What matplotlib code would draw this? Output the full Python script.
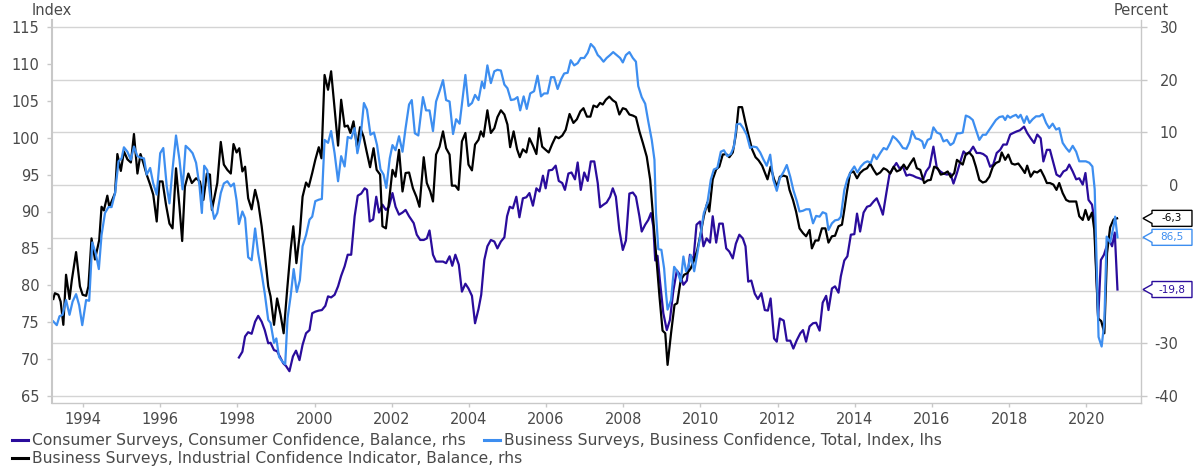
import matplotlib
matplotlib.use("Agg")
import matplotlib.pyplot as plt
from matplotlib.path import Path
from matplotlib.lines import Line2D

# Business Surveys, Business Confidence, Total, Index (lhs)
bc_years = [
    1993.23, 1993.32, 1993.39, 1993.47, 1993.56, 1993.65, 1993.73, 1993.82, 1993.90, 1993.98,
    1994.08, 1994.16, 1994.24, 1994.33, 1994.41, 1994.48, 1994.57, 1994.66, 1994.74, 1994.83, 1994.92,
    1995.00, 1995.06, 1995.15, 1995.24, 1995.32, 1995.41, 1995.49, 1995.58, 1995.65, 1995.74, 1995.82, 1995.91,
    1996.00, 1996.08, 1996.17, 1996.24, 1996.32, 1996.41, 1996.50, 1996.58, 1996.66, 1996.76, 1996.84, 1996.93,
    1997.02, 1997.08, 1997.14, 1997.22, 1997.31, 1997.40, 1997.48, 1997.57, 1997.65, 1997.74, 1997.83, 1997.91,
    1997.98, 1998.04, 1998.13, 1998.20, 1998.28, 1998.37, 1998.46, 1998.54, 1998.63, 1998.71, 1998.80, 1998.86, 1998.95,
    1999.01, 1999.08, 1999.16, 1999.24, 1999.30, 1999.38, 1999.46, 1999.54, 1999.62, 1999.69, 1999.78, 1999.87, 1999.94,
    2000.02, 2000.11, 2000.19, 2000.26, 2000.35, 2000.43, 2000.52, 2000.61, 2000.69, 2000.78, 2000.86, 2000.95,
    2001.04, 2001.11, 2001.19, 2001.28, 2001.36, 2001.45, 2001.54, 2001.62, 2001.71, 2001.79, 2001.86, 2001.95,
    2002.02, 2002.10, 2002.19, 2002.28, 2002.36, 2002.45, 2002.52, 2002.60, 2002.69, 2002.81, 2002.89, 2002.98,
    2003.07, 2003.15, 2003.24, 2003.33, 2003.41, 2003.50, 2003.59, 2003.67, 2003.76, 2003.85, 2003.91, 2003.99,
    2004.08, 2004.16, 2004.25, 2004.34, 2004.40, 2004.48, 2004.57, 2004.66, 2004.74, 2004.83, 2004.92,
    2005.00, 2005.09, 2005.18, 2005.26, 2005.33, 2005.42, 2005.50, 2005.59, 2005.69, 2005.78, 2005.87, 2005.95,
    2006.04, 2006.13, 2006.21, 2006.30, 2006.39, 2006.47, 2006.56, 2006.64, 2006.73, 2006.82, 2006.90, 2006.99,
    2007.08, 2007.16, 2007.25, 2007.34, 2007.40, 2007.49, 2007.57, 2007.66, 2007.74, 2007.83, 2007.92, 2007.99,
    2008.07, 2008.16, 2008.25, 2008.33, 2008.39, 2008.48, 2008.57, 2008.65, 2008.74, 2008.81, 2008.85, 2008.91, 2008.99,
    2009.06, 2009.11, 2009.15, 2009.24, 2009.32, 2009.40, 2009.49, 2009.56, 2009.63, 2009.69, 2009.75, 2009.84, 2009.92,
    2010.01, 2010.09, 2010.18, 2010.27, 2010.35, 2010.44, 2010.53, 2010.61, 2010.70, 2010.79, 2010.87, 2010.94,
    2011.03, 2011.11, 2011.20, 2011.29, 2011.37, 2011.46, 2011.55, 2011.63, 2011.72, 2011.81, 2011.89, 2011.98,
    2012.06, 2012.16, 2012.24, 2012.33, 2012.41, 2012.50, 2012.57, 2012.66, 2012.74, 2012.83, 2012.92,
    2013.00, 2013.09, 2013.17, 2013.26, 2013.32, 2013.41, 2013.49, 2013.58, 2013.64, 2013.73, 2013.81, 2013.90, 2013.99,
    2014.07, 2014.16, 2014.25, 2014.33, 2014.42, 2014.49, 2014.57, 2014.66, 2014.75, 2014.83, 2014.92, 2014.99,
    2015.08, 2015.16, 2015.25, 2015.34, 2015.42, 2015.49, 2015.58, 2015.66, 2015.75, 2015.80, 2015.89, 2015.97,
    2016.04, 2016.13, 2016.22, 2016.30, 2016.39, 2016.48, 2016.56, 2016.65, 2016.73, 2016.80, 2016.88, 2016.97,
    2017.06, 2017.14, 2017.23, 2017.32, 2017.40, 2017.49, 2017.58, 2017.66, 2017.75, 2017.84, 2017.90, 2017.96,
    2018.03, 2018.09, 2018.18, 2018.24, 2018.30, 2018.39, 2018.46, 2018.53, 2018.61, 2018.70, 2018.79, 2018.87, 2018.96,
    2019.04, 2019.13, 2019.22, 2019.30, 2019.39, 2019.48, 2019.56, 2019.65, 2019.74, 2019.82, 2019.91, 2019.99,
    2020.08, 2020.16, 2020.22, 2020.32, 2020.40, 2020.47, 2020.53, 2020.62, 2020.69, 2020.75, 2020.81,
]
bc_index = [
    75.1, 74.6, 75.8, 76.0, 78.0, 76.0, 77.8, 78.8, 77.3, 74.6,
    78.0, 77.9, 85.8, 84.3, 82.2, 86.8, 89.8, 90.6, 90.6, 92.5, 96.8,
    97.2, 98.7, 98.1, 97.0, 98.8, 97.5, 97.3, 97.2, 95.0, 95.9, 93.8, 92.3,
    97.9, 98.6, 93.4, 91.1, 95.7, 100.3, 97.0, 93.0, 98.9, 98.4, 97.9, 96.6,
    93.4, 89.8, 96.2, 95.6, 91.4, 89.0, 89.8, 92.5, 93.8, 94.1, 93.4, 93.8,
    91.5, 88.3, 90.0, 89.1, 83.8, 83.4, 87.7, 84.3, 81.6, 78.9, 75.3, 74.9, 72.2,
    72.8, 70.3, 69.7, 69.3, 75.5, 78.5, 82.2, 79.1, 80.7, 85.3, 86.8, 88.9, 89.3,
    91.4, 91.6, 91.7, 99.7, 99.3, 100.9, 97.9, 94.1, 97.5, 96.1, 100.1, 99.9,
    101.3, 97.9, 99.9, 104.7, 103.8, 100.4, 100.7, 99.0, 95.7, 95.0, 93.2, 97.2,
    99.0, 98.3, 100.2, 98.1, 101.3, 104.5, 105.1, 100.6, 100.3, 105.5, 103.7, 103.7,
    100.9, 104.9, 106.3, 107.8, 105.1, 104.9, 100.5, 102.5, 101.9, 105.8, 108.5, 104.3,
    104.7, 105.8, 105.1, 107.6, 106.7, 109.8, 107.4, 109.0, 109.2, 109.1, 107.2,
    106.7, 105.1, 105.2, 105.5, 103.7, 105.6, 103.9, 106.0, 106.3, 108.4, 105.6, 106.0,
    106.0, 108.2, 108.2, 106.6, 107.9, 108.7, 108.8, 110.5, 109.8, 110.1, 110.8, 110.8,
    111.5, 112.7, 112.2, 111.2, 110.9, 110.3, 110.8, 111.2, 111.6, 111.2, 110.8, 110.2,
    111.2, 111.6, 110.8, 110.3, 107.0, 105.5, 104.6, 102.2, 99.7, 97.0, 89.8, 84.9, 84.8,
    82.3, 78.9, 76.7, 78.0, 82.5, 81.9, 80.5, 83.9, 81.9, 82.5, 84.1, 81.9, 84.3,
    87.1, 89.8, 91.1, 94.3, 95.7, 95.9, 98.1, 98.3, 97.5, 97.8, 98.8, 101.8,
    101.9, 101.3, 100.4, 98.6, 98.8, 98.7, 98.0, 97.1, 96.2, 97.7, 94.3, 92.8,
    94.5, 95.4, 96.3, 94.7, 92.9, 91.4, 90.0, 90.1, 90.3, 90.3, 88.4,
    89.4, 89.3, 89.9, 89.7, 87.5, 88.4, 88.8, 88.9, 89.3, 92.9, 94.4, 95.4, 96.1,
    95.3, 96.1, 96.6, 96.8, 96.6, 97.7, 97.1, 97.9, 98.6, 98.4, 99.3, 100.2,
    99.8, 99.3, 98.6, 98.5, 99.4, 100.9, 99.9, 99.8, 99.5, 98.6, 99.7, 99.9,
    101.4, 100.7, 100.5, 99.5, 99.7, 99.0, 99.3, 100.6, 100.6, 100.7, 103.0, 102.8,
    102.4, 101.1, 99.7, 100.4, 100.4, 101.1, 101.8, 102.4, 102.8, 102.9, 102.4, 103.0,
    102.7, 102.9, 103.1, 102.7, 103.1, 102.0, 102.9, 102.0, 102.5, 102.9, 102.9, 103.2, 102.0,
    101.3, 101.9, 101.1, 101.3, 99.3, 98.6, 98.1, 98.9, 98.1, 96.8, 96.8, 96.8,
    96.6, 96.1, 93.0, 73.0, 71.7, 75.0, 86.6, 85.8, 87.5, 89.3, 86.5,
]

# Business Surveys, Industrial Confidence Indicator, Balance (rhs)
ic_years = [
    1993.23, 1993.27, 1993.36, 1993.42, 1993.49, 1993.56, 1993.65, 1993.71, 1993.82, 1993.92, 1993.99,
    1994.08, 1994.14, 1994.22, 1994.31, 1994.42, 1994.48, 1994.54, 1994.63, 1994.68, 1994.74, 1994.83, 1994.89, 1994.98,
    1995.06, 1995.15, 1995.24, 1995.32, 1995.41, 1995.49, 1995.56, 1995.65, 1995.74, 1995.82, 1995.91, 1995.98,
    1996.06, 1996.15, 1996.24, 1996.32, 1996.41, 1996.50, 1996.57, 1996.64, 1996.73, 1996.82, 1996.93,
    1997.03, 1997.12, 1997.21, 1997.29, 1997.34, 1997.42, 1997.48, 1997.57, 1997.65, 1997.74, 1997.83, 1997.90, 1997.98,
    1998.05, 1998.13, 1998.20, 1998.28, 1998.37, 1998.46, 1998.54, 1998.63, 1998.71, 1998.80, 1998.86, 1998.95,
    1999.03, 1999.12, 1999.20, 1999.29, 1999.38, 1999.45, 1999.53, 1999.62, 1999.69, 1999.78, 1999.85, 1999.94,
    2000.02, 2000.11, 2000.18, 2000.26, 2000.35, 2000.43, 2000.52, 2000.61, 2000.69, 2000.78, 2000.86, 2000.93,
    2001.01, 2001.10, 2001.18, 2001.27, 2001.35, 2001.44, 2001.53, 2001.61, 2001.70, 2001.76, 2001.85, 2001.93,
    2002.02, 2002.10, 2002.19, 2002.28, 2002.36, 2002.45, 2002.55, 2002.64, 2002.72, 2002.83, 2002.91,
    2003.00, 2003.07, 2003.15, 2003.24, 2003.33, 2003.41, 2003.50, 2003.56, 2003.65, 2003.73, 2003.82, 2003.91, 2003.99,
    2004.08, 2004.16, 2004.25, 2004.31, 2004.38, 2004.48, 2004.57, 2004.66, 2004.74, 2004.83, 2004.92,
    2005.00, 2005.07, 2005.16, 2005.25, 2005.32, 2005.40, 2005.49, 2005.57, 2005.66, 2005.75, 2005.82, 2005.90, 2005.99,
    2006.07, 2006.16, 2006.25, 2006.33, 2006.42, 2006.51, 2006.61, 2006.71, 2006.80, 2006.89, 2006.97,
    2007.06, 2007.15, 2007.23, 2007.32, 2007.40, 2007.47, 2007.55, 2007.64, 2007.73, 2007.81, 2007.90, 2007.99,
    2008.07, 2008.16, 2008.25, 2008.33, 2008.42, 2008.51, 2008.61, 2008.70, 2008.78, 2008.85, 2008.94,
    2009.02, 2009.09, 2009.15, 2009.24, 2009.33, 2009.40, 2009.49, 2009.58, 2009.66, 2009.75, 2009.84, 2009.92,
    2010.01, 2010.09, 2010.18, 2010.23, 2010.32, 2010.41, 2010.49, 2010.58, 2010.67, 2010.75, 2010.84, 2010.92, 2010.99,
    2011.08, 2011.17, 2011.25, 2011.34, 2011.43, 2011.51, 2011.60, 2011.68, 2011.74, 2011.82, 2011.91, 2011.99,
    2012.06, 2012.16, 2012.24, 2012.31, 2012.40, 2012.48, 2012.57, 2012.66, 2012.74, 2012.83, 2012.89, 2012.98,
    2013.06, 2013.15, 2013.24, 2013.32, 2013.41, 2013.49, 2013.58, 2013.67, 2013.73, 2013.80, 2013.88, 2013.97,
    2014.06, 2014.14, 2014.23, 2014.32, 2014.40, 2014.49, 2014.57, 2014.66, 2014.75, 2014.83, 2014.92,
    2015.01, 2015.09, 2015.18, 2015.27, 2015.35, 2015.44, 2015.53, 2015.61, 2015.70, 2015.80, 2015.89, 2015.97,
    2016.06, 2016.15, 2016.23, 2016.32, 2016.41, 2016.49, 2016.58, 2016.65, 2016.73, 2016.80, 2016.88, 2016.97,
    2017.06, 2017.14, 2017.23, 2017.32, 2017.40, 2017.49, 2017.58, 2017.66, 2017.75, 2017.81, 2017.90, 2017.98,
    2018.07, 2018.15, 2018.24, 2018.33, 2018.41, 2018.47, 2018.56, 2018.65, 2018.73, 2018.82, 2018.91, 2018.98,
    2019.06, 2019.15, 2019.23, 2019.30, 2019.39, 2019.48, 2019.56, 2019.65, 2019.74, 2019.82, 2019.91, 2019.98,
    2020.06, 2020.15, 2020.21, 2020.31, 2020.39, 2020.47, 2020.54, 2020.62, 2020.71, 2020.80,
]
ic_balance = [
    -21.6, -20.5, -20.8, -22.1, -26.5, -17.0, -21.6, -18.0, -12.7, -19.2, -20.8,
    -21.0, -19.2, -10.1, -14.1, -10.4, -4.1, -4.8, -2.0, -4.1, -3.1, -1.5, 5.9, 2.7,
    6.4, 4.9, 4.3, 9.7, 2.2, 5.9, 4.3, 2.0, 0.1, -1.8, -6.9, 0.7,
    0.7, -3.7, -7.3, -8.2, 3.2, -4.1, -10.6, -0.3, 2.2, 0.4, 1.3,
    0.7, -2.8, 2.2, 2.0, -4.7, -1.8, 0.4, 8.2, 3.9, 2.9, 2.2, 7.8, 6.2,
    7.0, 2.6, 3.5, -2.5, -4.6, -0.9, -3.3, -7.8, -12.9, -19.2, -21.1, -26.5,
    -21.5, -24.6, -28.1, -19.9, -12.3, -7.8, -14.8, -9.1, -2.2, 0.5, -0.3, 2.3,
    4.8, 7.2, 5.1, 20.9, 18.1, 21.6, 14.6, 7.5, 16.2, 11.1, 11.3, 9.9,
    12.1, 7.3, 11.0, 9.2, 6.4, 3.4, 7.0, 2.9, 2.0, -7.8, -8.2, -3.1,
    2.9, 1.6, 6.7, -1.2, 2.3, 2.4, -0.6, -2.2, -4.1, 5.3, 0.4,
    -1.2, -3.1, 5.8, 7.3, 10.2, 7.0, 5.8, -0.1, -0.1, -0.9, 8.3, 9.9, 3.9,
    2.8, 7.7, 8.6, 10.2, 9.2, 14.2, 9.9, 10.8, 12.9, 14.2, 13.4,
    11.5, 7.2, 10.2, 6.8, 5.3, 6.8, 6.2, 8.9, 7.5, 5.9, 10.8, 7.3, 6.7,
    6.2, 7.8, 9.2, 8.9, 9.4, 10.5, 13.5, 11.8, 12.5, 14.0, 14.6,
    13.0, 13.0, 15.1, 14.8, 15.6, 15.3, 16.2, 16.8, 16.1, 15.7, 13.4, 14.6,
    14.4, 13.4, 13.2, 12.9, 10.2, 8.0, 5.4, 1.0, -6.6, -12.9, -21.1,
    -27.6, -28.1, -34.1, -28.1, -22.7, -22.4, -18.0, -17.0, -16.7, -15.8, -14.2, -12.3,
    -9.1, -5.9, -3.3, -5.0, 1.1, 3.0, 3.5, 5.8, 5.9, 5.3, 6.2, 9.6, 14.8,
    14.8, 11.8, 9.4, 6.8, 5.3, 4.7, 3.7, 2.2, 1.1, 3.5, 1.1, -0.3,
    1.6, 1.8, 1.6, -0.9, -2.8, -5.0, -8.2, -9.1, -9.7, -8.5, -12.0, -10.5,
    -10.5, -8.2, -8.2, -10.9, -9.7, -9.6, -7.8, -7.5, -4.7, -1.2, 2.3, 2.6,
    1.3, 2.3, 2.9, 3.2, 4.1, 2.9, 2.0, 2.4, 3.2, 2.9, 2.2,
    3.5, 2.6, 2.9, 3.9, 3.0, 4.1, 5.1, 3.2, 2.9, 0.4, 0.9, 1.0,
    3.5, 3.2, 2.0, 2.2, 2.6, 1.5, 2.3, 4.8, 4.3, 3.9, 5.9, 6.2,
    5.4, 3.5, 1.0, 0.5, 0.7, 1.6, 3.5, 4.2, 4.5, 6.2, 4.8, 5.8,
    4.1, 3.9, 4.1, 3.2, 2.3, 3.7, 1.6, 2.6, 2.4, 2.9, 1.6, 0.4,
    0.4, 0.1, -0.9, 0.4, -1.5, -2.8, -3.1, -3.1, -3.1, -5.9, -6.6, -4.7,
    -6.6, -5.2, -8.5, -25.3, -25.8, -28.1, -12.9, -8.0, -6.5, -6.3,
]

# Consumer Surveys, Consumer Confidence, Balance (rhs)
cc_years = [
    1998.04, 1998.13, 1998.20, 1998.28, 1998.37, 1998.46, 1998.54, 1998.63, 1998.71, 1998.80, 1998.86, 1998.95,
    1999.03, 1999.12, 1999.19, 1999.26, 1999.35, 1999.44, 1999.52, 1999.61, 1999.69, 1999.78, 1999.87, 1999.94,
    2000.02, 2000.11, 2000.19, 2000.28, 2000.35, 2000.43, 2000.52, 2000.61, 2000.69, 2000.78, 2000.86, 2000.95,
    2001.04, 2001.12, 2001.21, 2001.30, 2001.36, 2001.43, 2001.52, 2001.60, 2001.67, 2001.76, 2001.85, 2001.93,
    2002.02, 2002.10, 2002.19, 2002.28, 2002.36, 2002.45, 2002.57, 2002.65, 2002.74, 2002.83, 2002.91, 2002.98,
    2003.07, 2003.15, 2003.24, 2003.33, 2003.41, 2003.50, 2003.57, 2003.65, 2003.74, 2003.82, 2003.91, 2003.99,
    2004.08, 2004.16, 2004.25, 2004.32, 2004.40, 2004.48, 2004.57, 2004.66, 2004.74, 2004.83, 2004.92, 2004.99,
    2005.06, 2005.14, 2005.23, 2005.31, 2005.40, 2005.49, 2005.57, 2005.66, 2005.75, 2005.83, 2005.92, 2005.99,
    2006.07, 2006.16, 2006.25, 2006.33, 2006.42, 2006.49, 2006.58, 2006.66, 2006.75, 2006.82, 2006.90, 2006.99,
    2007.08, 2007.16, 2007.25, 2007.34, 2007.40, 2007.49, 2007.57, 2007.66, 2007.73, 2007.81, 2007.90, 2007.99,
    2008.07, 2008.16, 2008.25, 2008.33, 2008.42, 2008.48, 2008.57, 2008.65, 2008.72, 2008.78, 2008.83, 2008.89, 2008.95,
    2009.04, 2009.13, 2009.21, 2009.30, 2009.39, 2009.47, 2009.56, 2009.65, 2009.73, 2009.82, 2009.90, 2009.99,
    2010.08, 2010.16, 2010.25, 2010.32, 2010.41, 2010.49, 2010.58, 2010.67, 2010.75, 2010.84, 2010.92,
    2011.01, 2011.10, 2011.17, 2011.24, 2011.32, 2011.41, 2011.49, 2011.58, 2011.67, 2011.75, 2011.82, 2011.91, 2011.98,
    2012.06, 2012.16, 2012.24, 2012.33, 2012.41, 2012.50, 2012.59, 2012.66, 2012.74, 2012.83, 2012.92,
    2013.00, 2013.09, 2013.17, 2013.26, 2013.32, 2013.41, 2013.49, 2013.58, 2013.64, 2013.73, 2013.81, 2013.90, 2013.99,
    2014.06, 2014.14, 2014.23, 2014.32, 2014.40, 2014.49, 2014.57, 2014.66, 2014.73, 2014.82, 2014.90, 2014.99,
    2015.08, 2015.16, 2015.25, 2015.34, 2015.42, 2015.51, 2015.59, 2015.68, 2015.77, 2015.85, 2015.94,
    2016.04, 2016.13, 2016.22, 2016.30, 2016.39, 2016.48, 2016.56, 2016.65, 2016.73, 2016.82, 2016.90, 2016.99,
    2017.07, 2017.16, 2017.25, 2017.33, 2017.42, 2017.51, 2017.59, 2017.68, 2017.77, 2017.85, 2017.94,
    2018.03, 2018.11, 2018.20, 2018.28, 2018.39, 2018.47, 2018.56, 2018.65, 2018.73, 2018.82, 2018.89, 2018.98,
    2019.06, 2019.15, 2019.23, 2019.32, 2019.41, 2019.49, 2019.56, 2019.65, 2019.74, 2019.82, 2019.91, 2019.98,
    2020.06, 2020.15, 2020.21, 2020.31, 2020.38, 2020.46, 2020.53, 2020.60, 2020.67, 2020.74, 2020.81,
]
cc_balance = [
    -32.7, -31.6, -28.7, -27.9, -28.2, -25.9, -24.8, -25.9, -27.5, -30.0, -29.9, -31.3,
    -31.5, -32.8, -33.8, -34.3, -35.3, -32.5, -31.4, -33.2, -30.3, -28.1, -27.5, -24.3,
    -24.0, -23.8, -23.7, -22.9, -21.1, -21.3, -20.8, -19.2, -17.2, -15.4, -13.2, -13.2,
    -5.9, -2.0, -1.6, -0.6, -0.9, -6.9, -6.5, -2.2, -5.2, -3.7, -4.7, -4.1,
    -1.5, -4.1, -5.6, -5.2, -4.7, -5.9, -7.2, -9.4, -10.4, -10.4, -10.1, -8.6,
    -13.2, -14.5, -14.5, -14.5, -14.8, -13.5, -15.3, -13.2, -15.1, -20.2, -18.7, -19.6,
    -21.0, -26.2, -23.5, -20.8, -14.2, -11.6, -10.4, -10.7, -12.0, -10.7, -9.9, -5.9,
    -4.1, -4.4, -2.2, -6.1, -2.5, -2.3, -1.5, -3.9, -0.6, -1.2, 1.8, -0.6,
    2.8, 2.9, 3.7, 0.8, 0.4, -0.9, 2.2, 2.4, 1.1, 4.3, -0.9, 2.4,
    0.8, 4.5, 4.5, 0.4, -4.2, -3.7, -3.3, -2.2, -0.6, -2.2, -8.5, -12.3,
    -10.5, -1.6, -1.4, -2.2, -5.9, -8.8, -7.5, -6.6, -5.3, -7.8, -14.3, -13.4, -18.0,
    -24.3, -27.5, -25.6, -20.0, -16.2, -17.0, -18.9, -18.1, -13.2, -14.2, -7.5, -6.9,
    -11.6, -10.1, -10.9, -5.9, -10.9, -7.3, -7.3, -12.0, -12.6, -13.9, -11.1,
    -9.4, -10.1, -11.6, -18.3, -18.1, -20.6, -21.6, -20.5, -23.7, -23.8, -21.5, -29.1, -29.7,
    -25.3, -25.7, -29.5, -29.5, -31.0, -29.4, -28.1, -27.5, -29.7, -26.8, -26.2,
    -26.1, -27.6, -22.3, -21.0, -23.7, -19.6, -19.2, -20.4, -17.3, -14.3, -13.5, -9.4, -9.3,
    -5.4, -8.8, -5.2, -4.1, -3.9, -3.1, -2.5, -4.1, -5.6, -1.5, 2.0, 3.2,
    4.2, 3.2, 3.5, 1.8, 2.0, 1.8, 1.5, 1.3, 1.0, 2.6, 3.5,
    7.3, 3.2, 2.6, 2.2, 2.0, 2.2, 0.3, 2.3, 4.3, 6.4, 5.8, 6.4,
    7.3, 6.1, 6.1, 5.9, 5.4, 3.5, 3.9, 6.1, 6.7, 7.7, 7.7,
    9.6, 9.9, 10.2, 10.4, 11.1, 9.9, 8.9, 8.0, 9.6, 8.9, 4.5, 6.7,
    6.7, 4.2, 2.0, 1.6, 2.6, 2.9, 3.9, 2.6, 1.1, 1.3, 0.1, 2.3,
    -2.8, -3.7, -6.6, -25.3, -14.2, -13.2, -11.6, -10.4, -11.6, -9.0, -19.8,
]

x_ticks = list(range(1994, 2021, 2))
pct_ticks = list(range(-40, 31, 10))
idx_ticks = list(range(65, 116, 5))
# the -10 and -20 labels sit behind the value tags in the source
pct_labels = ["" if v in (-10, -20) else str(v) for v in pct_ticks]

PURPLE = "#2a0c9c"
BLUE = "#3d8ef0"
BLACK = "#000000"
TXT = "#4a4a4a"
SPINE = "#c8c8c8"
FS = 10.5

W, H = 1194, 468
fig = plt.figure(figsize=(W / 100, H / 100), dpi=100)
ax = fig.add_axes([52 / W, 65 / H, 1089 / W, 383 / H])   # percent, right side
axl = ax.twinx()                                          # index, left side

ax.yaxis.set_ticks_position("right")
axl.yaxis.set_ticks_position("left")

ax.plot(cc_years, cc_balance, color=PURPLE, lw=1.6, solid_joinstyle="round")
ax.plot(ic_years, ic_balance, color=BLACK, lw=1.6, solid_joinstyle="round")
axl.plot(bc_years, bc_index, color=BLUE, lw=1.6, solid_joinstyle="round")

ax.set_xlim(1993.196, 2021.42)
ax.set_ylim(-41.33, 31.33)
axl.set_ylim(64.05, 115.95)
ax.set_xticks(x_ticks)
ax.set_xticklabels([str(y) for y in x_ticks])
ax.set_yticks(pct_ticks)
ax.set_yticklabels(pct_labels)
axl.set_yticks(idx_ticks)

ax.grid(axis="y", color="#d4d4d4", lw=1.0)
ax.grid(axis="x", visible=False)

for a in (ax, axl):
    a.spines["top"].set_visible(False)
    for s in ("left", "right", "bottom"):
        a.spines[s].set_color(SPINE)
        a.spines[s].set_linewidth(1.0)
ax.spines["left"].set_visible(False)
axl.spines["right"].set_visible(False)
axl.spines["bottom"].set_visible(False)
axl.spines["left"].set_linewidth(1.5)

ax.tick_params(axis="x", direction="out", length=2.6, width=1, color=SPINE,
               labelcolor=TXT, labelsize=FS, pad=4.2)
ax.tick_params(axis="y", direction="out", length=4.5, width=1, color=SPINE,
               labelcolor=TXT, labelsize=FS, pad=22.5)
axl.tick_params(axis="y", direction="out", length=3.6, width=1, color=SPINE,
                labelcolor=TXT, labelsize=FS, pad=5.3)
for t in ax.get_yticklabels():
    t.set_horizontalalignment("right")

ax.annotate("Percent", xy=(1, 1), xycoords="axes fraction", xytext=(0, 7),
            textcoords="offset points", ha="center", va="center", fontsize=FS, color=TXT)
ax.annotate("Index", xy=(0, 1), xycoords="axes fraction", xytext=(0, 7),
            textcoords="offset points", ha="center", va="center", fontsize=FS, color=TXT)


def tag_box(x0, y0, width, height, mutation_size):
    # fixed size tag with a small pointer on its left side (display pixels)
    cx = x0 + width / 2
    cy = y0 + height / 2
    w, h = 40, 16
    left, right = cx - w / 2, cx + w / 2
    bot, top = cy - h / 2, cy + h / 2
    verts = [(left, bot), (right, bot), (right, top), (left, top),
             (left, cy + 5), (left - 9, cy), (left, cy - 5), (left, bot)]
    return Path(verts, closed=True)


def value_tag(axis, value, color, text_color):
    label = f"{value:.1f}".replace(".", ",")
    axis.annotate(label, xy=(1, value), xycoords=axis.get_yaxis_transform(),
                  xytext=(22.3, 0), textcoords="offset points", ha="center", va="center",
                  fontsize=7.5, color=text_color, annotation_clip=False, zorder=10,
                  bbox=dict(boxstyle=tag_box, fc="white", ec=color, lw=1.0))


value_tag(ax, ic_balance[-1], BLACK, BLACK)
value_tag(axl, bc_index[-1], BLUE, BLUE)
value_tag(ax, cc_balance[-1], PURPLE, PURPLE)

# legend, laid out as in the source (flowing, not in columns)
LFS = 11.2
legend_items = [
    (12, 440, PURPLE, "Consumer Surveys, Consumer Confidence, Balance, rhs"),
    (484, 440, BLUE, "Business Surveys, Business Confidence, Total, Index, lhs"),
    (12, 458, BLACK, "Business Surveys, Industrial Confidence Indicator, Balance, rhs"),
]
for px, py, col, txt in legend_items:
    fig.add_artist(Line2D([px / W, (px + 16) / W], [1 - py / H] * 2, color=col, lw=2.2))
    fig.text((px + 20) / W, 1 - py / H, txt, ha="left", va="center", fontsize=LFS, color=TXT)

fig.savefig("out.png", dpi=100)
